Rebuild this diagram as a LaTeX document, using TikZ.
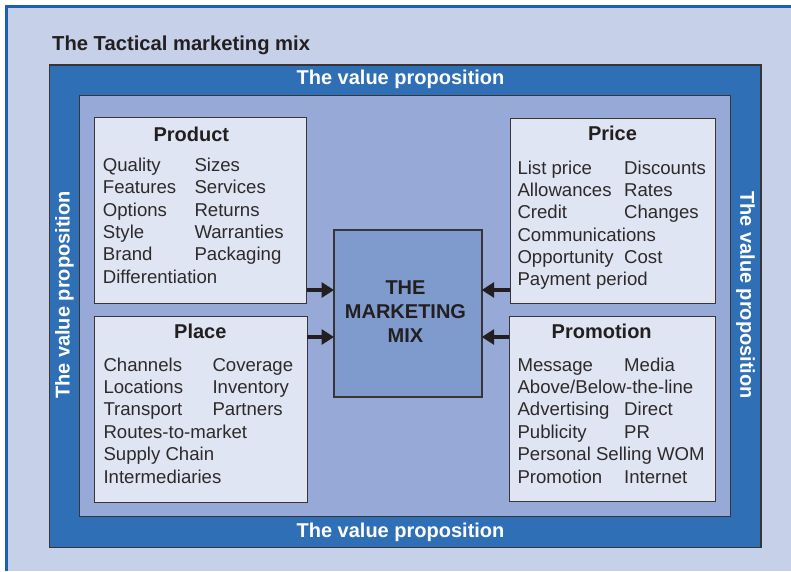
\documentclass[tikz,border=0pt]{standalone}
\usepackage{fontspec}
\setmainfont{Liberation Sans}
\usetikzlibrary{arrows.meta}
\definecolor{bgpanel}{HTML}{C6D0E8}
\definecolor{edgeblue}{HTML}{1B5FAF}
\definecolor{darkframe}{HTML}{2E6FB6}
\definecolor{midframe}{HTML}{97A9D7}
\definecolor{boxfill}{HTML}{DFE5F2}
\definecolor{mixfill}{HTML}{7F9BCE}
\definecolor{ink}{HTML}{231F20}
\tikzset{
  framebox/.style={draw=ink!90, line width=1.2pt, anchor=north west, inner sep=0pt, outer sep=0pt},
  groupbox/.style={framebox, fill=boxfill, line width=1pt},
  boxtitle/.style={anchor=base, inner sep=0pt, text=ink, font=\fontsize{20}{24}\selectfont\bfseries},
  item/.style={anchor=base west, inner sep=0pt, text=ink!95, font=\fontsize{18.6}{20}\selectfont},
  vp/.style={inner sep=0pt, text=white, font=\fontsize{20}{24}\selectfont\bfseries},
  arr/.style={draw=ink, line width=4.8pt, -{Triangle[length=12.5pt,width=15pt]}}
}
\begin{document}
\begin{tikzpicture}[x=1pt,y=-1pt]
\useasboundingbox (0,0) rectangle (791,571);
\fill[white] (0,0) rectangle (791,571);
\fill[bgpanel] (6.5,6.5) rectangle (791,571);
\draw[edgeblue, line width=2.2pt] (6.5,571) -- (6.5,6.5) -- (791,6.5);

\node[anchor=base west, inner sep=0pt, text=ink, font=\fontsize{20.2}{24}\selectfont\bfseries] (title) at (52,50.7) {The Tactical marketing mix};

\node[framebox, fill=darkframe, minimum width=711.7pt, minimum height=482.3pt] (outer) at (49.3,65) {};
\node[framebox, fill=midframe, minimum width=651pt, minimum height=421pt] (inner) at (79.3,95.7) {};

\node[vp] (vptop) at (400.5,79.5) {The value proposition};
\node[vp] (vpbot) at (400.5,532.5) {The value proposition};
\node[vp, rotate=90] (vpleft) at (64.5,295) {The value proposition};
\node[vp, rotate=-90] (vpright) at (745.5,295) {The value proposition};

\node[groupbox, minimum width=212.4pt, minimum height=185.6pt] (product) at (94.3,117.7) {};
\node[groupbox, minimum width=213pt, minimum height=185.6pt] (place) at (94.3,316.7) {};
\node[groupbox, minimum width=205pt, minimum height=185pt] (price) at (510,118.3) {};
\node[groupbox, minimum width=206pt, minimum height=185pt] (promo) at (509.3,316.7) {};
\node[framebox, fill=mixfill, line width=1.6pt, minimum width=147.7pt, minimum height=166.7pt] (mixbox) at (334,230) {};

\node[inner sep=0pt, align=center, text=ink, font=\fontsize{20}{24}\selectfont\bfseries] (mixtext) at (405.5,312) {THE\\MARKETING\\MIX};

% Product
\node[boxtitle] (productT) at (191.3,141.7) {Product};
\foreach \r/\t in {1/Quality,2/Features,3/Options,4/Style,5/Brand,6/Differentiation}
  \node[item] (prodA\r) at (102.7,{171.5+22.3*(\r-1)}) {\t};
\foreach \r/\t in {1/Sizes,2/Services,3/Returns,4/Warranties,5/Packaging}
  \node[item] (prodB\r) at (194.3,{171.5+22.3*(\r-1)}) {\t};

% Place
\node[boxtitle] (placeT) at (200.3,338.3) {Place};
\foreach \r/\t in {1/Channels,2/Locations,3/Transport,4/Routes-to-market,5/Supply Chain,6/Intermediaries}
  \node[item] (placeA\r) at (103.3,{371+22.46*(\r-1)}) {\t};
\foreach \r/\t in {1/Coverage,2/Inventory,3/Partners}
  \node[item] (placeB\r) at (212.3,{371+22.46*(\r-1)}) {\t};

% Price
\node[boxtitle] (priceT) at (612.5,140.7) {Price};
\foreach \r/\t in {1/List price,2/Allowances,3/Credit,4/Communications,5/Opportunity,6/Payment period}
  \node[item] (priceA\r) at (517.3,{174+22.34*(\r-1)}) {\t};
\foreach \r/\t in {1/Discounts,2/Rates,3/Changes,5/Cost}
  \node[item] (priceB\r) at (624,{174+22.34*(\r-1)}) {\t};

% Promotion
\node[boxtitle] (promoT) at (601.7,338.3) {Promotion};
\foreach \r/\t in {1/Message,2/{Above/Below-the-line},3/Advertising,4/Publicity,5/Personal Selling WOM,6/Promotion}
  \node[item] (promoA\r) at (517.3,{371+22.4*(\r-1)}) {\t};
\foreach \r/\t in {1/Media,3/Direct,4/PR,6/Internet}
  \node[item] (promoB\r) at (624,{371+22.4*(\r-1)}) {\t};

% Arrows
\draw[arr] (product.east |- 0,290) -- (mixbox.west |- 0,290);
\draw[arr] (place.east |- 0,337) -- (mixbox.west |- 0,337);
\draw[arr] (price.west |- 0,290) -- (mixbox.east |- 0,290);
\draw[arr] (promo.west |- 0,337) -- (mixbox.east |- 0,337);
\end{tikzpicture}
\end{document}
